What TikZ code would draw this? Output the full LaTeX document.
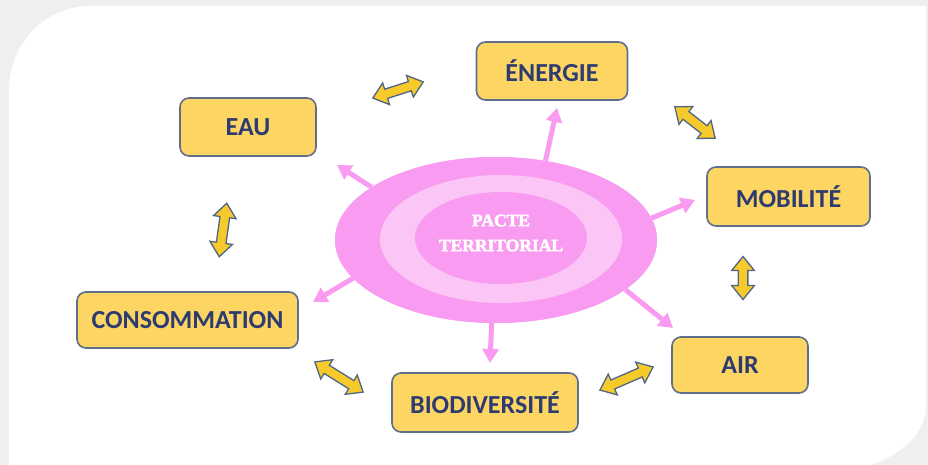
\documentclass[tikz,border=0pt]{standalone}
\usepackage{fontspec}
\setmainfont{Carlito}
\newfontfamily\pactefont{Liberation Serif}[BoldFont={Liberation Serif Bold}, BoldFeatures={FakeBold=2.5}]
\usetikzlibrary{shapes.geometric,shapes.arrows,arrows.meta}
\definecolor{bggrey}{HTML}{EFEFEF}
\definecolor{boxfill}{HTML}{FCD562}
\definecolor{boxline}{HTML}{5F6E8A}
\definecolor{boxtext}{HTML}{2E3B70}
\definecolor{arrfill}{HTML}{F7CA2C}
\definecolor{arrline}{HTML}{4F6688}
\definecolor{pinkA}{HTML}{F99BF0}
\definecolor{pinkB}{HTML}{FBC6F6}
\begin{document}
\begin{tikzpicture}[x=1pt,y=-1pt,
 theme/.style={draw=boxline, line width=1.6pt, fill=boxfill, rounded corners=9pt,
   text=boxtext, font=\fontsize{26}{30}\selectfont\bfseries, inner sep=0pt},
 dbl/.style={double arrow, draw=arrline, fill=arrfill, line width=1.3pt,
   inner xsep=0pt, inner ysep=4.2pt, double arrow head extend=6.5pt,
   double arrow tip angle=78},
 ray/.style={draw=pinkA, line width=5pt, -{Triangle[length=14pt,width=16pt]}},
 oval/.style={ellipse, inner sep=0pt},
]
\useasboundingbox (0,0) rectangle (928,465);
% background
\fill[bggrey] (0,0) rectangle (928,465);
\fill[white] (9,465) -- (9,91) .. controls (9,44) and (44,6) .. (91,6) -- (926,6)
  -- (926,405) .. controls (926,432) and (905,455) .. (862,468) -- (9,468) -- cycle;

% theme boxes
\node[theme, minimum width=151pt, minimum height=58pt] (energie) at (552,71) {ÉNERGIE};
\node[theme, minimum width=136pt, minimum height=58pt] (eau) at (248,127) {EAU};
\node[theme, minimum width=163pt, minimum height=59pt] (mobilite) at (788.5,196.5) {MOBILITÉ};
\node[theme, minimum width=221pt, minimum height=56pt] (conso) at (187.5,320) {CONSOMMATION};
\node[theme, minimum width=186pt, minimum height=59pt] (biodiv) at (485,402.5) {BIODIVERSITÉ};
\node[theme, minimum width=136pt, minimum height=56pt] (air) at (740,365) {AIR};

% central ellipse (outer, named for the rays)
\node[oval, fill=pinkA, minimum width=322pt, minimum height=166pt] (pacte) at (496,240) {};

% pink rays
\coordinate (tipE) at (557,108);
\coordinate (tipW) at (337,165);
\coordinate (tipM) at (695,200);
\coordinate (tipC) at (313,302);
\coordinate (tipB) at (490,363);
\coordinate (tipA) at (673,328);
\draw[ray] (pacte.58) -- (tipE);
\draw[ray] (pacte.157) -- (tipW);
\draw[ray] (pacte.8) -- (tipM);
\draw[ray] (pacte.195) -- (tipC);
\draw[ray] (pacte.267) -- (tipB);
\draw[ray] (pacte.339) -- (tipA);

% redraw ellipse rings on top of ray tails
\node[oval, fill=pinkA, minimum width=322pt, minimum height=166pt] (outer) at (496,240) {};
\node[oval, fill=pinkB, minimum width=242pt, minimum height=128pt] (ring) at (501,239) {};
\node[oval, fill=pinkA, minimum width=172pt, minimum height=92pt] (core) at (501,238) {};
\node[text=white, align=center, font=\pactefont\bfseries\fontsize{17.5}{25}\selectfont] (label) at (501,233) {PACTE\\TERRITORIAL};

% yellow double arrows
\node[dbl, minimum height=53pt, rotate=17.7] (eauEnergie) at (398,90) {};
\node[dbl, minimum height=51pt, rotate=-37.8] (energieMob) at (695,122.5) {};
\node[dbl, minimum height=54pt, rotate=82] (eauConso) at (223,230) {};
\node[dbl, minimum height=43pt, rotate=90] (mobAir) at (743,278) {};
\node[dbl, minimum height=57pt, rotate=-32] (consoBio) at (339,377) {};
\node[dbl, minimum height=58pt, rotate=23.5] (bioAir) at (626.5,378.5) {};
\end{tikzpicture}
\end{document}
